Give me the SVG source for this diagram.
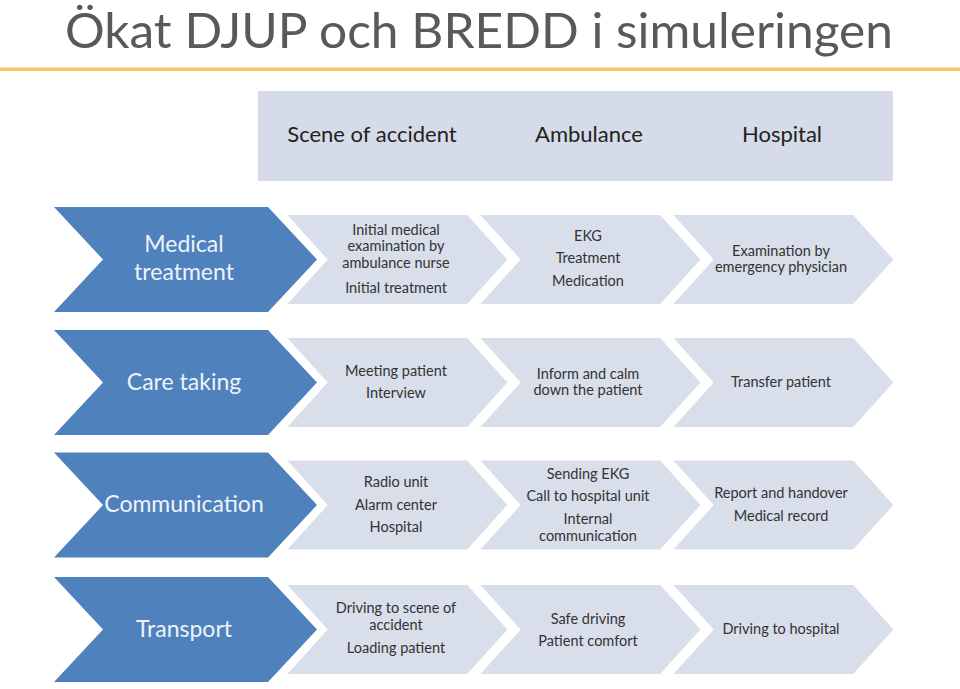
<svg xmlns="http://www.w3.org/2000/svg" xmlns:xlink="http://www.w3.org/1999/xlink" width="960" height="689" viewBox="0 0 960 689">
<style>
.title{font-family:Lato,"Liberation Sans",sans-serif;font-size:48px;fill:#595959}
.hdr{font-family:Lato,"Open Sans",sans-serif;font-size:22px;fill:#222;text-anchor:middle}
.lbl{font-family:Lato,"Open Sans",sans-serif;font-size:23px;fill:#eef3fa;text-anchor:middle}
.txt{font-family:Lato,"Open Sans",sans-serif;font-size:14.5px;fill:#333;text-anchor:middle}
.blue{fill:#4f81bd}
.light{fill:#d8deea;stroke:#fff;stroke-width:4;stroke-linejoin:miter}
</style>
<defs>
<polygon id="bc" points="54,-52.5 268,-52.5 317,0 268,52.5 54,52.5 103,0"/>
<polygon id="lc" points="0,-46.5 185,-46.5 227,0 185,46.5 0,46.5 42,0"/>
</defs>
<rect width="960" height="689" fill="#fff"/>
<text class="title" x="65" y="48" textLength="828" lengthAdjust="spacingAndGlyphs">Ökat DJUP och BREDD i simuleringen</text>
<rect x="0" y="67.5" width="960" height="3.5" fill="#f7c566"/>
<g id="header">
<rect x="258" y="91" width="635" height="90" fill="#d5dbe8"/>
<text class="hdr" x="372" y="142">Scene of accident</text>
<text class="hdr" x="589" y="142">Ambulance</text>
<text class="hdr" x="782" y="142">Hospital</text>
</g>
<g id="row-medical" transform="translate(0,259.5)">
<g id="medical-c3"><use xlink:href="#lc" x="669" class="light"/></g>
<g id="medical-c2"><use xlink:href="#lc" x="476" class="light"/></g>
<g id="medical-c1"><use xlink:href="#lc" x="283" class="light"/></g>
<g id="medical"><use xlink:href="#bc" class="blue"/>
<text class="lbl" x="184" y="-8">Medical</text><text class="lbl" x="184" y="20">treatment</text></g>
<text class="txt" x="396" y="-25">Initial medical</text>
<text class="txt" x="396" y="-9">examination by</text>
<text class="txt" x="396" y="8">ambulance nurse</text>
<text class="txt" x="396" y="33">Initial treatment</text>
<text class="txt" x="588" y="-19">EKG</text>
<text class="txt" x="588" y="3">Treatment</text>
<text class="txt" x="588" y="26">Medication</text>
<text class="txt" x="781" y="-4">Examination by</text>
<text class="txt" x="781" y="12">emergency physician</text>
</g>
<g id="row-care" transform="translate(0,382.5)">
<g id="care-c3"><use xlink:href="#lc" x="669" class="light"/></g>
<g id="care-c2"><use xlink:href="#lc" x="476" class="light"/></g>
<g id="care-c1"><use xlink:href="#lc" x="283" class="light"/></g>
<g id="care"><use xlink:href="#bc" class="blue"/>
<text class="lbl" x="184" y="7">Care taking</text></g>
<text class="txt" x="396" y="-7">Meeting patient</text>
<text class="txt" x="396" y="15">Interview</text>
<text class="txt" x="588" y="-4">Inform and  calm</text>
<text class="txt" x="588" y="12">down the patient</text>
<text class="txt" x="781" y="4">Transfer patient</text>
</g>
<g id="row-comm" transform="translate(0,505)">
<g id="comm-c3"><use xlink:href="#lc" x="669" class="light"/></g>
<g id="comm-c2"><use xlink:href="#lc" x="476" class="light"/></g>
<g id="comm-c1"><use xlink:href="#lc" x="283" class="light"/></g>
<g id="comm"><use xlink:href="#bc" class="blue"/>
<text class="lbl" x="184" y="7">Communication</text></g>
<text class="txt" x="396" y="-18">Radio unit</text>
<text class="txt" x="396" y="5">Alarm center</text>
<text class="txt" x="396" y="27">Hospital</text>
<text class="txt" x="588" y="-26">Sending EKG</text>
<text class="txt" x="588" y="-4">Call to hospital unit</text>
<text class="txt" x="588" y="19">Internal</text>
<text class="txt" x="588" y="36">communication</text>
<text class="txt" x="781" y="-7">Report and handover</text>
<text class="txt" x="781" y="16">Medical record</text>
</g>
<g id="row-transport" transform="translate(0,629.5)">
<g id="transport-c3"><use xlink:href="#lc" x="669" class="light"/></g>
<g id="transport-c2"><use xlink:href="#lc" x="476" class="light"/></g>
<g id="transport-c1"><use xlink:href="#lc" x="283" class="light"/></g>
<g id="transport"><use xlink:href="#bc" class="blue"/>
<text class="lbl" x="184" y="7">Transport</text></g>
<text class="txt" x="396" y="-17">Driving to scene of</text>
<text class="txt" x="396" y="0">accident</text>
<text class="txt" x="396" y="23">Loading patient</text>
<text class="txt" x="588" y="-6">Safe driving</text>
<text class="txt" x="588" y="16">Patient comfort</text>
<text class="txt" x="781" y="4">Driving to hospital</text>
</g>
<g id="connectors"/>
</svg>
